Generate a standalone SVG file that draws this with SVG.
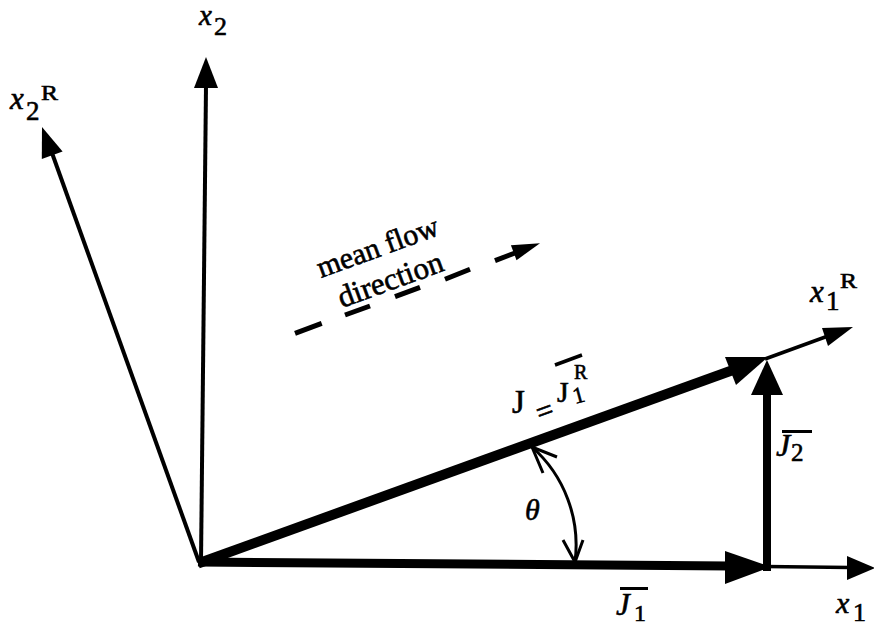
<svg xmlns="http://www.w3.org/2000/svg" width="874" height="628" viewBox="0 0 874 628">
<style>
.thin{stroke:#000;stroke-width:4;fill:none}
.thick{stroke:#000;fill:none;stroke-linecap:butt}
.head{fill:#000;stroke:none}
.lbl{font-family:"Liberation Serif","Times New Roman",serif;fill:#000;stroke:#000;stroke-width:0.6}
.it{font-style:italic}
</style>
<rect width="874" height="628" fill="#fff"/>
<g id="connectors">
  <!-- x2 axis -->
  <line class="thin" x1="201" y1="562" x2="206" y2="86"/>
  <polygon class="head" points="206,57 194,88 218,88"/>
  <!-- x2R axis -->
  <line class="thin" x1="199" y1="562" x2="52" y2="153"/>
  <polygon class="head" points="42,127 41.8,158.9 62.6,151.5"/>
  <!-- x1 axis -->
  <line class="thin" x1="765" y1="566.5" x2="850" y2="567.5" style="stroke-width:3.5"/>
  <polygon class="head" points="875,568 847,556 847,580"/>
  <!-- x1R axis -->
  <line class="thin" x1="765" y1="359" x2="828" y2="336" style="stroke-width:3.5"/>
  <polygon class="head" points="853,327 822,328 828,346"/>
  <!-- J1 -->
  <line class="thick" x1="198" y1="562" x2="730" y2="566" style="stroke-width:9"/>
  <polygon class="head" points="771,567 725,551 725,584"/>
  <!-- J2 -->
  <line class="thick" x1="767" y1="571" x2="767" y2="392" style="stroke-width:8"/>
  <polygon class="head" points="767,360 751,395 783,395"/>
  <!-- J diagonal -->
  <line class="thick" x1="198" y1="563.5" x2="733" y2="370" style="stroke-width:10"/>
  <polygon class="head" points="768,357 725,357 736,385"/>
  <!-- mean flow direction -->
  <g class="thin" style="stroke-width:5">
    <line x1="295" y1="333.3" x2="321.7" y2="323.3"/>
    <line x1="345" y1="315" x2="370" y2="306"/>
    <line x1="395" y1="296.7" x2="420" y2="287.3"/>
    <line x1="445" y1="279.3" x2="470" y2="269.3"/>
    <line x1="495" y1="260.7" x2="515" y2="253"/>
  </g>
  <polygon class="head" points="540,243.3 510.9,245.2 516.5,260.2"/>
  <!-- angle theta -->
  <path class="thin" style="stroke-width:3" d="M532,447 A131,131 0 0 1 575,562"/>
  <polyline class="thin" style="stroke-width:3" points="543,473 532,447 557,457"/>
  <polyline class="thin" style="stroke-width:3" points="563,540 575,562 583,540"/>
</g>
<g id="label-x2">
  <text class="lbl it" x="199" y="25" font-size="29">x</text>
  <text class="lbl" x="214" y="35" font-size="26">2</text>
</g>
<g id="label-x2R">
  <text class="lbl it" x="10" y="109" font-size="31">x</text>
  <text class="lbl" x="26" y="120" font-size="27">2</text>
  <text class="lbl" x="41" y="100" font-size="21" textLength="17" lengthAdjust="spacingAndGlyphs">R</text>
</g>
<g id="label-x1R">
  <text class="lbl it" x="810" y="302" font-size="31">x</text>
  <text class="lbl" x="826" y="310" font-size="27">1</text>
  <text class="lbl" x="840" y="288" font-size="21" textLength="17" lengthAdjust="spacingAndGlyphs">R</text>
</g>
<g id="label-x1">
  <text class="lbl it" x="836" y="613" font-size="30">x</text>
  <text class="lbl" x="853" y="621" font-size="26">1</text>
</g>
<g id="label-J1">
  <text class="lbl it" x="616" y="615" font-size="31">J</text>
  <text class="lbl" x="634" y="621" font-size="24">1</text>
  <line x1="620" y1="588.5" x2="648" y2="588.5" stroke="#000" stroke-width="3"/>
</g>
<g id="label-J2">
  <text class="lbl it" x="776" y="456" font-size="32">J</text>
  <text class="lbl" x="791" y="461" font-size="25">2</text>
  <line x1="782" y1="431.5" x2="812" y2="431.5" stroke="#000" stroke-width="3"/>
</g>
<g id="label-theta">
  <text class="lbl it" x="525" y="520" font-size="30">θ</text>
</g>
<g id="label-J">
  <text class="lbl" x="512" y="413" font-size="33">J</text>
  <text class="lbl" transform="translate(540,423) rotate(-20)" font-size="30">=</text>
  <text class="lbl" x="557" y="402" font-size="30">J</text>
  <text class="lbl" transform="translate(575,404) rotate(-15)" font-size="23">1</text>
  <text class="lbl" x="574" y="379" font-size="20">R</text>
  <line x1="555" y1="365" x2="582" y2="355" stroke="#000" stroke-width="3.5"/>
</g>
<g id="label-mean-flow">
  <text class="lbl" transform="translate(321,278) rotate(-20)" font-size="30">mean flow</text>
  <text class="lbl" transform="translate(342,308) rotate(-20)" font-size="31">direction</text>
</g>
</svg>
